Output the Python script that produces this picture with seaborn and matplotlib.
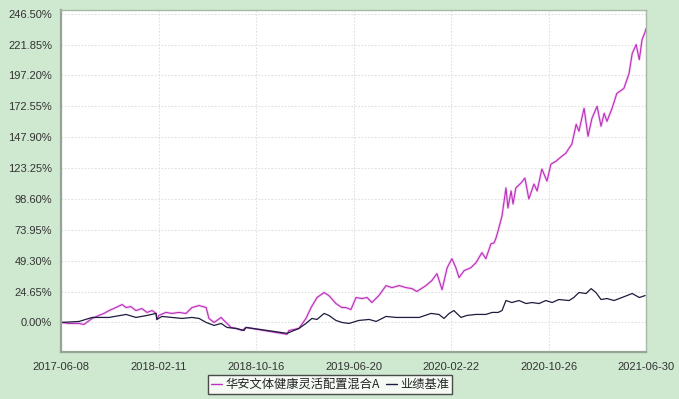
import numpy as np
import pandas as pd
import matplotlib
matplotlib.use("Agg")
import matplotlib.pyplot as plt
import seaborn as sns

start_date = "2017-06-08"
end_date = "2021-06-30"

# Fund series: days since start, cumulative return (%)
fund_days = [0, 20, 46, 58, 79, 96, 109, 122, 139, 155, 165, 177, 190, 205, 218, 231, 241, 243, 248,
             266, 281, 299, 317, 332, 350, 368, 375, 388, 406, 413, 421, 431, 444, 459, 469, 573, 578,
             603, 621, 634, 649, 667, 679, 697, 712, 722, 735, 748, 763, 776, 788, 806, 824, 839, 857,
             875, 890, 902, 925, 940, 953, 966, 979, 991, 1001, 1009, 1022, 1039, 1052, 1067, 1077,
             1090, 1098, 1103, 1110, 1118, 1128, 1133, 1141, 1146, 1153, 1166, 1176, 1186, 1199, 1207,
             1219, 1232, 1242, 1255, 1270, 1280, 1288, 1295, 1306, 1313, 1326, 1336, 1346, 1359, 1369,
             1377, 1384, 1397, 1409, 1427, 1440, 1448, 1458, 1466, 1473, 1481, 1483]
fund_vals = [0, -0.8, -0.8, -1.6, 3.2, 5.6, 7.2, 9.5, 11.9, 14.3, 11.9, 12.7, 9.5, 11.1, 8.0, 9.5, 7.2, 2.4, 5.6,
             8.0, 7.2, 8.0, 7.2, 11.9, 13.5, 11.9, 3.2, 0, 4.0, 1.6, -0.8, -4.0, -4.8, -6.4, -4.0, -9.5, -6.4,
             -4.8, 3.2, 11.9, 19.9, 23.9, 21.5, 15.1, 11.9, 11.9, 10.3, 19.9, 19.1, 19.9, 15.9, 21.5, 29.4, 27.8, 29.4,
             27.8, 27.0, 24.7, 29.4, 33.4, 39.0, 26.2, 43.7, 50.9, 43.7, 35.8, 41.4, 43.7, 47.7, 55.7, 50.9,
             62.8, 63.6, 67.6, 75.5, 85.1, 107.4, 91.4, 105.0, 94.6, 107.4, 111.3, 115.3, 98.6, 110.5, 105.0,
             122.5, 112.9, 126.4, 128.8, 132.8, 135.2, 139.2, 142.3, 158.2, 152.7, 171.0, 148.7, 163.0, 172.6, 156.7,
             167.0, 160.6, 171.0, 182.9, 186.9, 198.8, 214.7, 221.9, 209.9, 225.8, 232.2, 234.6]

# Benchmark series
bench_days = [0, 46, 79, 122, 165, 190, 218, 241, 243, 256, 281, 307, 332, 350, 368, 388, 406, 421, 444,
              464, 469, 573, 603, 621, 636, 649, 667, 679, 697, 712, 730, 755, 781, 799, 824, 849, 875,
              908, 938, 958, 971, 984, 996, 1014, 1029, 1052, 1077, 1093, 1108, 1118, 1128, 1143, 1161,
              1179, 1194, 1212, 1229, 1245, 1262, 1288, 1300, 1313, 1331, 1344, 1356, 1369, 1384, 1402,
              1422, 1448, 1466, 1481]
bench_vals = [0, 0.8, 4.0, 4.0, 6.4, 4.0, 5.6, 7.2, 2.4, 4.8, 4.0, 3.2, 4.0, 3.2, 0, -2.4, -0.8, -4.0, -4.8,
              -6.4, -4.0, -8.7, -4.8, -0.8, 3.2, 2.4, 7.2, 5.6, 1.6, 0, -0.8, 1.6, 2.4, 0.8, 4.8, 4.0, 4.0,
              4.0, 7.2, 6.4, 3.2, 7.2, 9.5, 4.0, 5.6, 6.4, 6.4, 8.0, 8.0, 9.5, 17.5, 15.9, 17.5,
              15.1, 15.9, 15.1, 17.5, 15.9, 18.3, 17.5, 19.9, 23.9, 23.1, 27.0, 23.9, 18.3, 19.1, 17.5,
              19.9, 23.1, 19.9, 21.5]

x_tick_labels = ["2017-06-08", "2018-02-11", "2018-10-16", "2019-06-20", "2020-02-22", "2020-10-26", "2021-06-30"]
y_ticks = [0.00, 24.65, 49.30, 73.95, 98.60, 123.25, 147.90, 172.55, 197.20, 221.85, 246.50]
series_names = ["华安文体健康灵活配置混合A", "业绩基准"]

t0 = pd.Timestamp(start_date)
fund_df = pd.DataFrame({"date": t0 + pd.to_timedelta(fund_days, unit="D"), "value": fund_vals})
bench_df = pd.DataFrame({"date": t0 + pd.to_timedelta(bench_days, unit="D"), "value": bench_vals})

sns.set_style("white")
plt.rcParams["font.family"] = ["Liberation Sans", "Noto Sans CJK SC", "DejaVu Sans"]

bg = "#cfe8d0"
fig = plt.figure(figsize=(6.79, 3.99), dpi=100, facecolor=bg)
ax = fig.add_axes([61 / 679, 1 - 352 / 399, (646 - 61) / 679, (352 - 10) / 399])
ax.set_facecolor("white")

# halo then line for fund
sns.lineplot(data=fund_df, x="date", y="value", ax=ax, color="#f2c4f2", lw=1.9, alpha=0.8)
sns.lineplot(data=fund_df, x="date", y="value", ax=ax, color="#b92fb9", lw=0.8)
sns.lineplot(data=bench_df, x="date", y="value", ax=ax, color="#1c1c3c", lw=0.9)

ax.set_xlim(pd.Timestamp(start_date), pd.Timestamp(end_date))
ax.set_ylim(-23.6, 249.5)

ax.set_xticks(pd.to_datetime(x_tick_labels))
ax.set_xticklabels(x_tick_labels)
ax.set_yticks(y_ticks)
ax.set_yticklabels([f"{v:.2f}%" for v in y_ticks])
ax.set_xlabel("")
ax.set_ylabel("")

ax.grid(True, linestyle=(0, (1.5, 1.5)), color="#e0e0e0", lw=0.8)
ax.tick_params(axis="both", labelsize=8, labelcolor="#333333", color="#8a9a8a",
               length=3, width=0.8, direction="out")
ax.tick_params(axis="x", pad=4)

for side in ["left", "bottom"]:
    ax.spines[side].set_color("#95a595")
    ax.spines[side].set_linewidth(1.6)
for side in ["top", "right"]:
    ax.spines[side].set_color("#a8b8a8")
    ax.spines[side].set_linewidth(1.0)

handles = [plt.Line2D([], [], color="#c030c0", lw=1.0),
           plt.Line2D([], [], color="#1c1c3c", lw=1.0)]
leg = fig.legend(handles, series_names, loc="center", bbox_to_anchor=(330 / 679, 1 - 384.5 / 399),
                 ncol=2, frameon=True, fancybox=False, handlelength=0.9, handletextpad=0.25,
                 columnspacing=0.5, borderpad=0.25, borderaxespad=0,
                 prop={"family": ["Noto Sans CJK SC", "DejaVu Sans"], "size": 8.8})
leg.get_frame().set_edgecolor("#222222")
leg.get_frame().set_linewidth(1.0)
leg.get_frame().set_facecolor("white")
for t in leg.get_texts():
    t.set_color("#222222")

fig.savefig("out.png", dpi=100, facecolor=bg)
